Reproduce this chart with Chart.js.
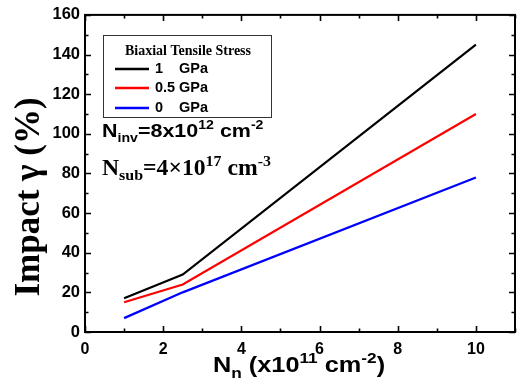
<!DOCTYPE html>
<html>
<head>
<meta charset="utf-8">
<script src="https://cdn.jsdelivr.net/npm/chart.js@4.4.1/dist/chart.umd.min.js"></script>
<style>
  html, body { margin: 0; padding: 0; background: #fff; }
  #wrap { width: 523px; height: 388px; position: relative; }
</style>
</head>
<body>
<div id="wrap"><canvas id="c"></canvas></div>
<script>
// values
const nn = [1, 2.5, 10];
const gpa1 = [17, 29, 145];
const gpa05 = [15, 24, 110];
const gpa0 = [7, 20, 78];
const seriesLabels = ['1', '0.5', '0'];
const seriesColors = ['#000000', '#ff0000', '#0000ff'];
const xTickLabels = [0, 2, 4, 6, 8, 10];
const yTickLabels = [0, 20, 40, 60, 80, 100, 120, 140, 160];

const ARIAL = '"Liberation Sans", Arial, sans-serif';
const TIMES = '"Liberation Serif", "Times New Roman", serif';

function pts(ys) {
  return nn.map((x, i) => ({ x: x, y: ys[i] }));
}

// draws a list of [text, font, dy] pieces one after another,
// optionally stretched horizontally by sx
function richText(ctx, x, y, parts, sx) {
  ctx.save();
  ctx.translate(x, y);
  ctx.scale(sx || 1, 1);
  let cx = 0;
  parts.forEach(([txt, font, dy]) => {
    ctx.font = font;
    ctx.fillText(txt, cx, dy || 0);
    cx += ctx.measureText(txt).width;
  });
  ctx.restore();
}

const framePlugin = {
  id: 'frame',
  afterDraw(chart) {
    const { ctx, chartArea: a, scales } = chart;
    const xs = scales.x, ys = scales.y;
    ctx.save();
    ctx.strokeStyle = '#000';
    ctx.fillStyle = '#000';

    // box
    ctx.lineWidth = 2;
    ctx.strokeRect(a.left, a.top, a.right - a.left, a.bottom - a.top);

    // inward ticks on all four sides
    ctx.lineWidth = 1.6;
    ctx.beginPath();
    for (let v = 0; v <= 11; v++) {
      const p = Math.round(xs.getPixelForValue(v)) + 0.5;
      const len = v % 2 === 0 ? 6 : 3.5;
      ctx.moveTo(p, a.bottom); ctx.lineTo(p, a.bottom - len);
      ctx.moveTo(p, a.top); ctx.lineTo(p, a.top + len);
    }
    for (let v = 0; v <= 160; v += 10) {
      const p = Math.round(ys.getPixelForValue(v)) + 0.5;
      const len = v % 20 === 0 ? 6 : 3.5;
      ctx.moveTo(a.left, p); ctx.lineTo(a.left + len, p);
      ctx.moveTo(a.right, p); ctx.lineTo(a.right - len, p);
    }
    ctx.stroke();

    // legend box
    ctx.lineWidth = 1;
    ctx.strokeStyle = '#333';
    ctx.strokeRect(103.5, 35.5, 168, 82);
    ctx.fillStyle = '#000';
    ctx.textBaseline = 'middle';
    ctx.textAlign = 'center';
    ctx.font = 'bold 14px ' + TIMES;
    ctx.fillText('Biaxial Tensile Stress', 188, 51);
    ctx.textAlign = 'left';
    const rows = [69, 88, 108];
    chart.data.datasets.forEach((ds, i) => {
      ctx.strokeStyle = ds.borderColor;
      ctx.lineWidth = 2.5;
      ctx.beginPath();
      ctx.moveTo(115, rows[i]); ctx.lineTo(149, rows[i]);
      ctx.stroke();
      ctx.fillStyle = '#000';
      ctx.font = 'bold 14.5px ' + ARIAL;
      ctx.fillText(seriesLabels[i], 155, rows[i]);
      ctx.fillText('GPa', 179, rows[i]);
    });

    // annotations
    ctx.textBaseline = 'alphabetic';
    richText(ctx, 102, 137, [
      ['N', 'bold 19px ' + ARIAL],
      ['inv', 'bold 12.5px ' + ARIAL, 5],
      ['=8x10', 'bold 19px ' + ARIAL],
      ['12', 'bold 12.5px ' + ARIAL, -8],
      [' cm', 'bold 19px ' + ARIAL],
      ['-2', 'bold 12.5px ' + ARIAL, -8]
    ], 1.13);
    richText(ctx, 102, 175, [
      ['N', 'bold 23px ' + TIMES],
      ['sub', 'bold 15.5px ' + TIMES, 5],
      ['=4\u00d710', 'bold 23px ' + TIMES],
      ['17', 'bold 15.5px ' + TIMES, -9],
      [' cm', 'bold 23px ' + TIMES],
      ['-3', 'bold 15.5px ' + TIMES, -9]
    ], 1.03);

    // x axis title
    richText(ctx, 213, 372, [
      ['N', 'bold 22px ' + ARIAL],
      ['n', 'bold 15px ' + ARIAL, 6],
      [' (x10', 'bold 22px ' + ARIAL],
      ['11', 'bold 15px ' + ARIAL, -9],
      [' cm', 'bold 22px ' + ARIAL],
      ['-2', 'bold 15px ' + ARIAL, -9],
      [')', 'bold 22px ' + ARIAL]
    ], 1.15);

    // y axis title
    ctx.translate(39, 197);
    ctx.rotate(-Math.PI / 2);
    ctx.textAlign = 'center';
    ctx.font = 'bold 35px ' + TIMES;
    ctx.fillText('Impact \u03b3 (%)', 0, 0);
    ctx.restore();
  }
};

new Chart(document.getElementById('c'), {
  type: 'line',
  data: {
    datasets: [
      { label: '1 GPa', data: pts(gpa1) },
      { label: '0.5 GPa', data: pts(gpa05) },
      { label: '0 GPa', data: pts(gpa0) }
    ].map((ds, i) => ({
      ...ds,
      borderColor: seriesColors[i],
      borderWidth: 2.2,
      pointRadius: 0,
      tension: 0,
      fill: false
    }))
  },
  options: {
    responsive: true,
    maintainAspectRatio: false,
    animation: false,
    layout: { padding: { top: 13, right: 8, left: 0, bottom: 0 } },
    plugins: { legend: { display: false }, tooltip: { enabled: false } },
    scales: {
      x: {
        type: 'linear',
        min: 0,
        max: 11,
        afterFit(s) { s.height = 56; },
        grid: { display: false, drawTicks: false },
        border: { display: false },
        ticks: {
          stepSize: 1,
          autoSkip: false,
          maxRotation: 0,
          padding: 8,
          color: '#000',
          font: { family: ARIAL, size: 16, weight: 'bold' },
          callback: v => xTickLabels.includes(v) ? String(v) : ''
        }
      },
      y: {
        min: 0,
        max: 160,
        afterFit(s) { s.width = 85; },
        grid: { display: false, drawTicks: false },
        border: { display: false },
        ticks: {
          stepSize: 10,
          autoSkip: false,
          padding: 5,
          color: '#000',
          font: { family: ARIAL, size: 16.5, weight: 'bold' },
          callback: v => yTickLabels.includes(v) ? String(v) : ''
        }
      }
    }
  },
  plugins: [framePlugin]
});
</script>
</body>
</html>
